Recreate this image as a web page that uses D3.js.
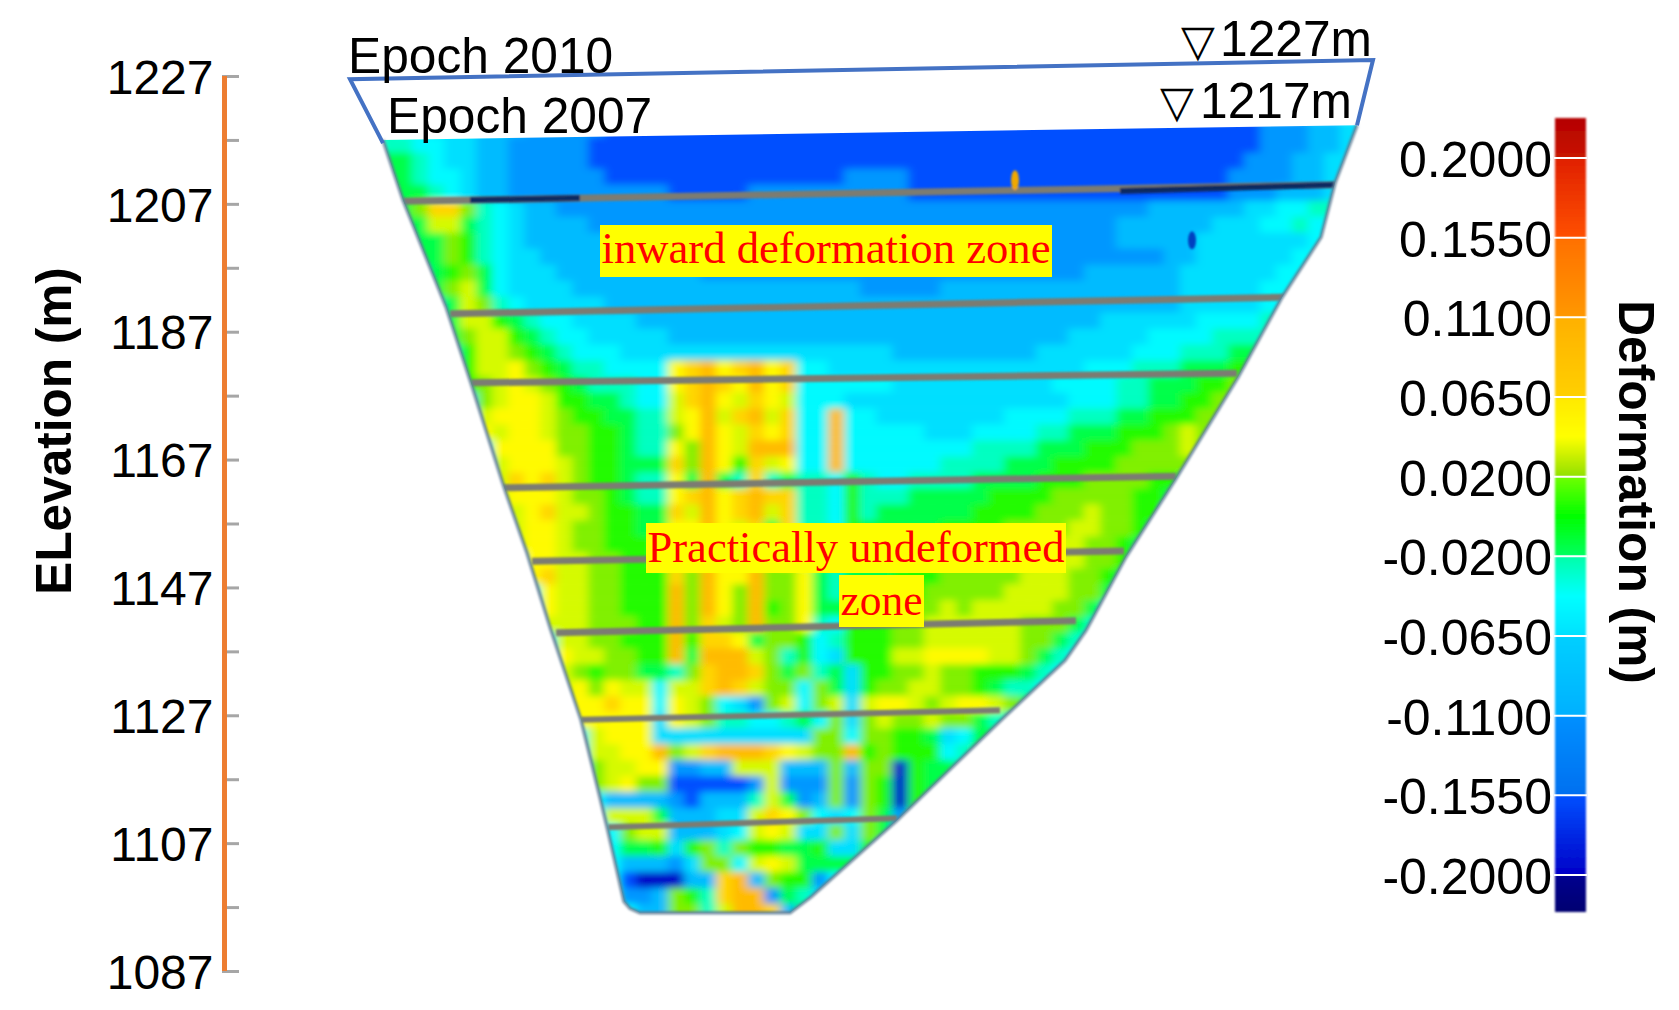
<!DOCTYPE html>
<html><head><meta charset="utf-8">
<script src="https://cdnjs.cloudflare.com/ajax/libs/d3/7.8.5/d3.min.js"></script>
<style>html,body{margin:0;background:#fff}svg{display:block}text{font-family:"Liberation Sans",Arial,sans-serif}</style>
</head><body><svg id="c" width="1679" height="1010"></svg>
<script>
// ---- axis / legend data
const elevTicks=[1227,1217,1207,1197,1187,1177,1167,1157,1147,1137,1127,1117,1107,1097,1087];
const elevLabels=[1227,1207,1187,1167,1147,1127,1107,1087];
const legendTicks=["0.2000","0.1550","0.1100","0.0650","0.0200","-0.0200","-0.0650","-0.1100","-0.1550","-0.2000"];
const legendTickValues=[0.2,0.155,0.11,0.065,0.02,-0.02,-0.065,-0.11,-0.155,-0.2];
const legendStopValues=[0.2225,0.2,0.2,0.155,0.155,0.11,0.11,0.065,0.065,0.0425,0.02,0.02,0,-0.02,-0.02,-0.0425,-0.065,-0.065,-0.11,-0.11,-0.155,-0.155,-0.2,-0.2,-0.2225];
const legendStopColours=["#b40000","#c81400","#e02000","#ff5000","#ff7000","#ff9800","#ffb000","#ffd000","#ffe800","#ffff00","#90e000","#70ff00","#00ff00","#00ff60","#00ffa8","#00ffff","#00e0ff","#00d0ff","#00b0ff","#0090ff","#0070f0","#0050ff","#0000c8","#000090","#000070"];
// ---- colour map
const heatDomain=[-0.2,-0.155,-0.11,-0.065,-0.0425,-0.02,0,0.02,0.0425,0.065,0.11,0.155,0.2];
const heatColours=["#0000c8","#0050ff","#0090ff","#00d0ff","#00ffff","#00ff90","#00ff00","#80f000","#ffff00","#ffd000","#ffa000","#ff6000","#e02000"];
const levelCodes="abcdefghijklmno";
const levelValues=[-0.2,-0.155,-0.105,-0.08,-0.058,-0.045,-0.03,-0.01,0.005,0.02,0.035,0.045,0.062,0.085,0.13];
// ---- deformation grid (one row per 2.5 m of elevation, one code per chainage cell)
const gridRows=[
"gffeeedddc ccccbbbbbb bbbbbbbbbb bbbbbbbbbb bbbbbbbbbb bbbbbcccdd ee",
"ggffeeddcc cccbbbbbbb bbbbbbbbbb bbbbbbbbbb bbbbbbbbbb bbbbbcccdd ee",
"hhgfeeddcc cccbbbbbbb bbbbbbbbbb bbbbbbbbbb bbbbbbbbbb bbbbcccdde ee",
"hhgffeddcc ccccbbbbbb bbbbbbbbbc cccbbbbbbb bbbbbbbbbb bbbccccdde ee",
"ihhgfeddcc ccccccccbb bbbccccccc cccbbbbbbb bbbbbbbbbb bbbcccddde ee",
"hhjmmjgfed dccccccccc cccccccccc cccccccccc ccccccccdd ddddeeffgg ee",
"hhhkkhgfed dddccccccc cccccccccc cccccccccc ccccccdddd ddeeeffgff ee",
"gghhjigfed dddddccccc cccccccccc cccccccccc ccccccdddd deeeeeeeff ee",
"gghhjigfee dddddddccc cccccccccc cccccccccc cccccccccd deeeeeefff ee",
"ffghijhfee eddddddddd cccccccccc cccccccccc ccccdddddd eeeeeeffff ee",
"fgghjkhfee eedddddddd dddddddddd cccccddddd dddddddddd eeeeefffff ff",
"ffgghkjgfe eeeedddddd dddddddddd dddddddddd dddddddddd eeeeeffggg gg",
"fffghkkihg ffeeeedddd dddddddddd dddddddddd dddddeeeee effffgggff ff",
"ffffhjkkih gffeeeeedd dddddddddd dddddddddd dddeeeeeff ffgggggfff ff",
"ffffgikkji hgfffeeeee eeeeeeeeee eedddddddd deeeeeefff ggghhhffff ff",
"ffffgikklj ihggfffflm nlmnlmffee eeeeeeeeee eeeefffggg hhhiiijiff ff",
"ffffgijklk jihgggfflm nmlnlmffff ffeeeeeeee eeffffgghh hiijjjjfff ff",
"ffffffjkll kiihhgffkm nlkmlkfffe eeeeeeeeee eeefffgghh iijjjjjggf ff",
"ffffffklll kjiihhggkl nkmnkmffnf feeeeeeeef fffggghhii ijjjjjgfff ff",
"fffffflkll kjjiihggjl nlkmlmffnf ffffeeefff fgghhhiiij kjjjgfffff ff",
"ffffffflll ljjiihgglj nlknnnffnf fffffffggg ghhhiiijjj kjjgffffff ff",
"fffffffkll lkjiihhhmj nlimklffnf fffffggggh hhiiiijjjj jjgfffffff ff",
"fffffffkml mkjiihgglh nhgmghggfi gffgggghhh hiiijjjjii hgffffffff ff",
"fffffffkll lkjjihgglm nlmnmmggfi ggghhhhhii iijjjjjiih gfffffffff ff",
"ffffffflkl mkkjiihhmk nlmnkmggfi ghhhhhhiii ijjjkjjiig ffffffffff ff",
"ffffffffkl lkjjiihhll nlkmhmggfi hhhhhiiiij jjjkkjjihg ffffffffff ff",
"ffffffffkl lkjjiiihkl nlkmjmggfh hhhhiiiijj jjkkjjihgf ffffffffff ff",
"fffffffffl lkkjjiihkm mlkkjmhggh hhhiiiijjj jkkkjjihgf ffffffffff ff",
"ffffffffkl mkkjjiiimj nllnjjlhgh hhiiijjjjj kkkjjihgff ffffffffff ff",
"ffffffffff lkkjjiiinj nljnjjlhgh hhiijjjjjk kkkjjhgfff ffffffffff ff",
"ffffffffff lkkjjiiinj nljnijlhhi iiijjkjkkk kkjjhgffff ffffffffff ff",
"ffffffffff kkkjjjiinj mkjnjjlgfi iijjkkkkkk jjjhgfffff ffffffffff ff",
"ffffffffff fkkjjiiini mmlhjjifgi iijjkkkkkk jjhgffffff ffffffffff ff",
"ffffffffff flkkjjiinh nnnkjgifei iikkllllkk jhgfffffff ffffffffff ff",
"ffffffffff fkjijjhhgj mnnmjhjghe iijjkjjiii hgffffffff ffffffffff ff",
"ffffffffff fkljlkkfkk mnmkjjfjhe ijjkkjjihg gfffffffff ffffffffff ff",
"ffffffffff flllmllflk jfecjkfjke kllkjkllkj hgffffffff ffffffffff ff",
"ffffffffff fklllllelk jggffghfje jkjjkjjhgg ffffffffff ffffffffff ff",
"ffffffffff fffkllleee eeeeeeejjf jjiihefhhg gfffffffff ffffffffff ff",
"ffffffffff fffkkllnjk mnnnmlkjjn ijiiifgihg gfffffffff ffffffffff ff",
"ffffffffff fffjkkllcc ddkkkdddjd jjaihhghgf ffffffffff ffffffffff ff",
"ffffffffff fffjkljjbb bbbckcccjc jiaihhgfff ffffffffff ffffffffff ff",
"ffffffffff ffffddddcb dddgkhcdjc jiaihgffff ffffffffff ffffffffff ff",
"ffffffffff ffffkkkhdd deekmljfef jhchgfffff ffffffffff ffffffffff ff",
"ffffffffff fffffjkkdd defklkeeje jhdgffffff ffffffffff ffffffffff ff",
"ffffffffff fffffhhiei jgjiihhiee igffffffff ffffffffff ffffffffff ff",
"ffffffffff fffffdddce jjfklkhhhh gfffffffff ffffffffff ffffffffff ff",
"ffffffffff fffffbaaad dmndjiicfg gfffffffff ffffffffff ffffffffff ff",
"ffffffffff fffffccdji gmnnchgefg ffffffffff ffffffffff ffffffffff ff",
"ffffffffff ffffffddjj gknnmdhhff ffffffffff ffffffffff ffffffffff ff"];
// ---- dam geometry (chainage m-units, elevation m)
const damChainage=[33,53,96,121,154,177,201,231,249,258,274,280,290,440,461,547,654,715,736,776,825,888,932,971,985,1007];
const damElevation=[1217,1207.6,1190.9,1179,1162.7,1152.4,1140.3,1126.3,1114.8,1108.9,1097.9,1096.8,1096.1,1096.1,1098.6,1110.6,1126.7,1135.6,1140.3,1151.8,1163.8,1179.9,1192.4,1201.8,1210.3,1219.3];
const epochChainage=[33,0,1023,1007];
const epochElevation=[1216.5,1226.5,1229.5,1219.3];
const bermStartChainage=[53,100,121,153,182,206,231,258];
const bermStartElevation=[1207.4,1189.8,1179,1162.6,1151.1,1139.9,1126.3,1109.5];
const bermEndChainage=[986,935,887,826,774,726,650,547];
const bermEndElevation=[1210,1192.4,1180.5,1164.4,1152.7,1141.8,1127.8,1110.9];
const darkStartChainage=[120,770];
const darkEndChainage=[230,985];
const darkStartElevation=[1207.6,1209];
const darkEndElevation=[1207.9,1210];
const spotChainage=[665,842];
const spotElevation=[1210.7,1201.3];
const spotColours=["#f0a800","#0040c0"];

const svg=d3.select("#c");
const defs=svg.append("defs");
const x=d3.scaleLinear().domain([0,1024]).range([350,1374]);
const y=d3.scaleLinear().domain([1227,1087]).range([76,971]);
const heat=d3.scaleLinear().domain(heatDomain).range(heatColours);
const cols=d3.range(0,62), rowsIdx=d3.range(0,gridRows.length);
const cx=d3.scaleBand().domain(cols).range([x(30),x(30+16*62)]);
const cy=d3.scaleBand().domain(rowsIdx).range([y(1220),y(1220-2.5*gridRows.length)]);
const cells=[];
gridRows.forEach((row,r)=>row.split(" ").forEach((g,gi)=>[...g].forEach((ch,k)=>{
  cells.push({r,c:gi*10+k,v:levelValues[levelCodes.indexOf(ch)]});
})));
const damPts=damChainage.map((c,i)=>[x(c),y(damElevation[i])]);
defs.append("clipPath").attr("id","dam").append("polygon").attr("points",damPts.map(p=>p.join(",")).join(" "));
const blur=defs.append("filter").attr("id","soft").attr("x","-5%").attr("y","-5%").attr("width","110%").attr("height","110%");
blur.append("feGaussianBlur").attr("stdDeviation","5 3.5");
const blur2=defs.append("filter").attr("id","soft2").attr("x","-5%").attr("y","-5%").attr("width","110%").attr("height","110%");
blur2.append("feGaussianBlur").attr("stdDeviation",0.8);

const clipG=svg.append("g").attr("clip-path","url(#dam)");
clipG.append("g").attr("filter","url(#soft)").selectAll("rect").data(cells).join("rect")
 .attr("x",d=>cx(d.c)).attr("y",d=>cy(d.r)).attr("width",cx.bandwidth()+0.5).attr("height",cy.bandwidth()+0.5)
 .attr("fill",d=>heat(d.v));
const fine=clipG.append("g").attr("filter","url(#soft2)");
fine.selectAll("line.b").data(bermStartChainage).join("line").attr("class","b")
 .attr("x1",(d,i)=>x(d)).attr("y1",(d,i)=>y(bermStartElevation[i])).attr("x2",(d,i)=>x(bermEndChainage[i])).attr("y2",(d,i)=>y(bermEndElevation[i]))
 .attr("stroke","#7c7c72").attr("stroke-width",(d,i)=>i>=6?6:7);
fine.selectAll("line.d").data(darkStartChainage).join("line").attr("class","d")
 .attr("x1",d=>x(d)).attr("y1",(d,i)=>y(darkStartElevation[i])).attr("x2",(d,i)=>x(darkEndChainage[i])).attr("y2",(d,i)=>y(darkEndElevation[i]))
 .attr("stroke","#102a60").attr("stroke-width",6);
fine.selectAll("ellipse").data(spotChainage).join("ellipse")
 .attr("cx",d=>x(d)).attr("cy",(d,i)=>y(spotElevation[i])).attr("rx",4).attr("ry",(d,i)=>i?9:10)
 .attr("fill",(d,i)=>spotColours[i]);
// dam edge
svg.append("path").attr("filter","url(#soft2)")
 .attr("d",d3.line()(damPts)).attr("fill","none").attr("stroke","#5f7f96").attr("stroke-width",3.5).attr("stroke-opacity",.85);
// epoch 2010 outline
svg.append("path").attr("d",d3.line().x((c)=>x(c)).y((c,i)=>y(epochElevation[i]))(epochChainage))
 .attr("fill","none").attr("stroke","#4472c4").attr("stroke-width",4);

// elevation axis
const gTicks=svg.append("g").attr("transform","translate(222,0)").call(d3.axisRight(y).tickValues(elevTicks).tickSize(17).tickFormat(""));
gTicks.select(".domain").remove();
gTicks.selectAll("line").attr("stroke","#a6a6a6").attr("stroke-width",3);
svg.append("line").attr("x1",224.5).attr("x2",224.5).attr("y1",y(1227)).attr("y2",y(1087)).attr("stroke","#ed7d31").attr("stroke-width",5);
const gLab=svg.append("g").attr("transform","translate(213.5,0)").call(d3.axisLeft(y).tickValues(elevLabels).tickSize(0).tickPadding(0).tickFormat(d3.format("d")));
gLab.select(".domain").remove();
gLab.selectAll("text").attr("font-size",48).attr("fill","#000").attr("dy","0.36em").style("font-family",'"Liberation Sans"');
svg.append("text").attr("transform","translate(71,431) rotate(-90)").attr("text-anchor","middle").attr("font-size",49.5).attr("font-weight","700").text("ELevation (m)");

// legend
const legY=d3.scalePoint().domain(legendTickValues).range([158,875]);
const legPos=d3.scaleLinear().domain([0.2225,...legendTickValues,-0.2225]).range([118,...legendTickValues.map(v=>legY(v)),912]);
const grad=defs.append("linearGradient").attr("id","bar").attr("x1",0).attr("x2",0).attr("y1",0).attr("y2",1);
grad.selectAll("stop").data(legendStopValues).join("stop")
 .attr("offset",d=>(legPos(d)-118)/(912-118)).attr("stop-color",(d,i)=>legendStopColours[i]);
svg.append("rect").attr("x",1555).attr("y",118).attr("width",31).attr("height",794).attr("fill","url(#bar)").attr("filter","url(#soft2)");
svg.selectAll("line.lt").data(legendTickValues).join("line").attr("class","lt")
 .attr("x1",1554).attr("x2",1587).attr("y1",d=>legY(d)).attr("y2",d=>legY(d)).attr("stroke","#fff").attr("stroke-width",2);
svg.selectAll("text.lg").data(legendTicks).join("text").attr("class","lg")
 .attr("x",1552).attr("y",(d,i)=>legY(legendTickValues[i])+1).attr("dy","0.36em").attr("text-anchor","end").attr("font-size",50).text(d=>d);
svg.append("text").attr("transform","translate(1619,492) rotate(90)").attr("text-anchor","middle").attr("font-size",49.7).attr("font-weight","700").text("Deformation (m)");

// annotations
const notes=[["Epoch 2010",348,73],["Epoch 2007",387,133],["1227m",1220,56],["1217m",1200,118]];
svg.selectAll("text.n").data(notes).join("text").attr("class","n").attr("x",d=>d[1]).attr("y",d=>d[2]).attr("font-size",49.7).text(d=>d[0]);
const tris=[["▽",1181,56],["▽",1160,117]];
svg.selectAll("text.t").data(tris).join("text").attr("class","t").attr("x",d=>d[1]).attr("y",d=>d[2]).attr("font-size",44).style("font-family",'"DejaVu Sans"').text(d=>d[0]);
const boxes=[["inward deformation zone",600,225,452,52,263],["Practically undeformed",646,523,420,50,562],["zone",839,575,85,52,615]];
svg.selectAll("rect.bx").data(boxes).join("rect").attr("class","bx").attr("x",d=>d[1]).attr("y",d=>d[2]).attr("width",d=>d[3]).attr("height",d=>d[4]).attr("fill","#ffff00");
svg.selectAll("text.bx").data(boxes).join("text").attr("class","bx").attr("x",d=>d[1]+d[3]/2).attr("y",d=>d[5]).attr("text-anchor","middle")
 .attr("font-size",45).attr("fill","#ff0000").style("font-family",'"Liberation Serif"').attr("textLength",d=>d[3]-3).attr("lengthAdjust","spacingAndGlyphs").text(d=>d[0]);
</script></body></html>
